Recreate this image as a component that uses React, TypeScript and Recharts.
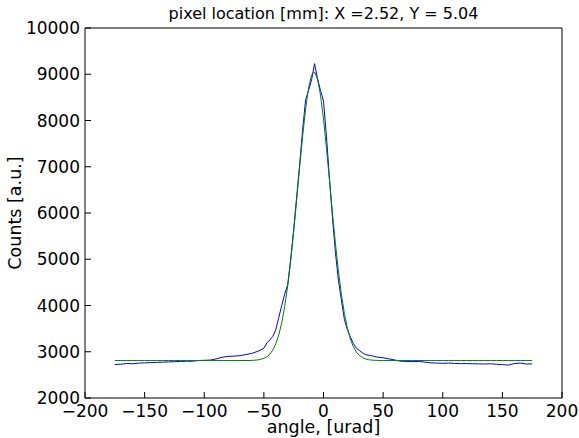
import React from 'react';
import { LineChart, Line, XAxis, YAxis, Label } from 'recharts';

// angle positions [urad] shared by measured data and fit
const angles = [
  -175, -170, -165, -160, -155, -150, -145, -140, -135, -130, -125, -120, -115,
  -110, -105, -100, -95, -90, -85, -80, -75, -70, -65, -60, -55, -50,
  -47.5, -45, -42.5, -40, -37.5, -35, -32.5, -30, -27.5, -25, -22.5, -20, -17.5,
  -15, -12.5, -10, -7.5, -5, -2.5, 0, 2.5, 5, 7.5, 10, 12.5, 15, 17.5, 20, 22.5,
  25, 27.5, 30, 32.5, 35, 37.5,
  40, 45, 50, 55, 60, 65, 70, 75, 80, 85, 90, 95, 100, 105, 110, 115, 120, 125,
  130, 135, 140, 145, 150, 155, 160, 165, 170, 175,
];

// measured counts (blue)
const measured = [
  2725, 2730, 2745, 2740, 2755, 2760, 2765, 2770, 2775, 2780, 2785, 2790, 2795,
  2795, 2810, 2815, 2820, 2845, 2880, 2900, 2905, 2915, 2940, 2965, 3010, 3075,
  3190, 3255, 3330, 3480, 3740, 4000, 4250, 4450, 5000, 5650, 6350, 7050, 7800,
  8450, 8650, 8880, 9230, 8900, 8650, 8420, 7650, 6750, 5900, 5150, 4550, 4120,
  3700, 3480, 3320, 3180, 3080, 3030, 2980, 2940, 2925,
  2915, 2885, 2870, 2845, 2820, 2795, 2790, 2785, 2790, 2775, 2760, 2755, 2750,
  2755, 2748, 2742, 2745, 2740, 2738, 2735, 2740, 2730, 2722, 2712, 2745, 2755,
  2735, 2738,
];

// gaussian fit (green)
const fitted = [
  2810, 2810, 2810, 2810, 2810, 2810, 2810, 2810, 2810, 2810, 2810, 2810, 2810,
  2810, 2810, 2810, 2810, 2810, 2810, 2810, 2810, 2810, 2810, 2813, 2823, 2856,
  2891, 2948, 3037, 3171, 3363, 3629, 3984, 4431, 4974, 5600, 6284, 6990, 7664,
  8253, 8708, 8981, 9049, 8896, 8546, 8032, 7400, 6708, 6006, 5342, 4747, 4240,
  3830, 3514, 3278, 3111, 2997, 2922, 2875, 2846, 2829,
  2820, 2813, 2810, 2810, 2810, 2810, 2810, 2810, 2810, 2810, 2810, 2810, 2810,
  2810, 2810, 2810, 2810, 2810, 2810, 2810, 2810, 2810, 2810, 2810, 2810, 2810,
  2810, 2810,
];

const xTicks = [-200, -150, -100, -50, 0, 50, 100, 150, 200];
const yTicks = [2000, 3000, 4000, 5000, 6000, 7000, 8000, 9000, 10000];

const title = 'pixel location [mm]: X =2.52, Y = 5.04';

const data = angles.map((a, i) => ({ angle: a, measured: measured[i], fitted: fitted[i] }));

const font = 'DejaVu Sans, sans-serif';
const minus = (v: number) => String(v).replace('-', '\u2212');

export default function App() {
  const tickStyle = { fill: '#000', fontSize: 17, fontFamily: font };
  const axisLine = { stroke: '#000', strokeWidth: 1 };
  return (
    <div style={{ position: 'absolute', left: 0, top: 0, width: 579, height: 438, background: '#fff' }}>
      <div
        style={{
          position: 'absolute',
          left: 85,
          width: 477,
          top: 4,
          textAlign: 'center',
          fontFamily: font,
          fontSize: 16,
          whiteSpace: 'nowrap',
        }}
      >
        {title}
      </div>
      <LineChart width={579} height={438} data={data} margin={{ top: 27, right: 16, left: 5, bottom: 0 }}>
        <XAxis
          xAxisId="b"
          dataKey="angle"
          type="number"
          domain={[-200, 200]}
          ticks={xTicks}
          tickFormatter={minus}
          tick={tickStyle}
          tickSize={-6}
          tickMargin={13}
          axisLine={axisLine}
          tickLine={{ stroke: '#000' }}
          height={40}
        >
          <Label value="angle, [urad]" position="insideBottom" offset={5} style={{ fill: '#000', fontSize: 17.5, fontFamily: font }} />
        </XAxis>
        <XAxis
          xAxisId="t"
          orientation="top"
          dataKey="angle"
          type="number"
          domain={[-200, 200]}
          ticks={xTicks}
          tick={false}
          tickSize={-6}
          axisLine={axisLine}
          tickLine={{ stroke: '#000' }}
          height={1}
        />
        <YAxis
          yAxisId="l"
          type="number"
          domain={[2000, 10000]}
          ticks={yTicks}
          tick={tickStyle}
          tickSize={-6}
          tickMargin={11}
          axisLine={axisLine}
          tickLine={{ stroke: '#000' }}
          width={80}
        >
          <Label value="Counts [a.u.]" angle={-90} position="insideLeft" offset={10} style={{ fill: '#000', fontSize: 17.5, fontFamily: font, textAnchor: 'middle' }} />
        </YAxis>
        <YAxis
          yAxisId="r"
          orientation="right"
          type="number"
          domain={[2000, 10000]}
          ticks={yTicks}
          tick={false}
          tickSize={-6}
          axisLine={axisLine}
          tickLine={{ stroke: '#000' }}
          width={1}
        />
        <Line xAxisId="t" yAxisId="r" dataKey="fitted" stroke="none" dot={false} isAnimationActive={false} />
        <Line xAxisId="b" yAxisId="l" dataKey="measured" stroke="#0000ff" strokeWidth={1} dot={false} isAnimationActive={false} />
        <Line xAxisId="b" yAxisId="l" dataKey="fitted" stroke="#008000" strokeWidth={1} dot={false} isAnimationActive={false} />
      </LineChart>
    </div>
  );
}
